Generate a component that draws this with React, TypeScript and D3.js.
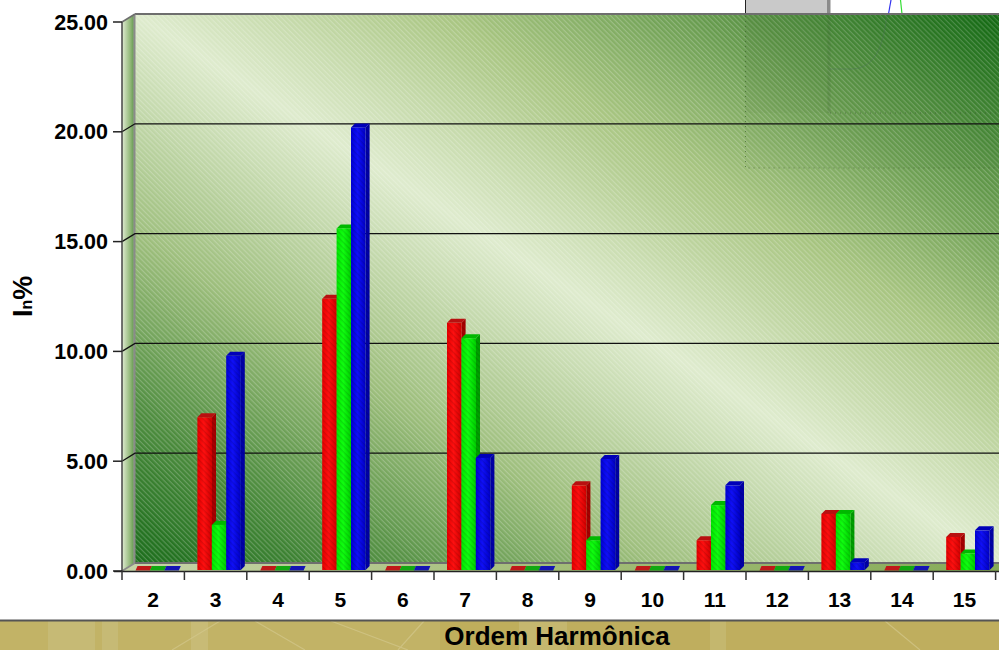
import React from "react";
import * as d3 from "d3";

const categories = ["2","3","4","5","6","7","8","9","10","11","12","13","14","15"];
const redValues = [0,7.0,0,12.4,0,11.3,0,3.9,0,1.4,0,2.6,0,1.55];
const greenValues = [0,2.1,0,15.6,0,10.6,0,1.4,0,3.0,0,2.6,0,0.8];
const blueValues = [0,9.8,0,20.2,0,5.15,0,5.1,0,3.9,0,0.4,0,1.85];
const yTicks = [0,5,10,15,20,25];
const seriesColors = [
  { side: "#a80000", top: "#b81010", flat: "#c01818", id: "r" },
  { side: "#00a000", top: "#00b800", flat: "#12a812", id: "g" },
  { side: "#0000a8", top: "#0000b8", flat: "#1414b4", id: "b" },
];

const W = 999, H = 650;
const dx = 13, dy = 8;
const barDx = 4, barDy = 4;
const x = d3.scaleBand<string>().domain(categories).range([122, 995.6]);
const y = d3.scaleLinear().domain([0, 25]).range([571, 22]);
const FONT = "'Liberation Sans', Arial, sans-serif";

export default function App() {
  const series = [redValues, greenValues, blueValues];
  const step = x.step();
  const barW = 14.6;
  const right = W + 2;
  return (
    <svg width={W} height={H} viewBox={`0 0 ${W} ${H}`} style={{ position: "absolute", left: 0, top: 0, background: "#fff" }}>
      <defs>
        <linearGradient id="wall" x1="0" y1="1" x2="1" y2="0">
          <stop offset="0" stopColor="#1a6c1a" />
          <stop offset="0.13" stopColor="#4a8a3c" />
          <stop offset="0.3" stopColor="#9dbe7c" />
          <stop offset="0.5" stopColor="#deebcd" />
          <stop offset="0.68" stopColor="#a8c581" />
          <stop offset="0.85" stopColor="#5a9344" />
          <stop offset="1" stopColor="#0f6a10" />
        </linearGradient>
        <linearGradient id="side" x1="0" y1="0" x2="1" y2="0">
          <stop offset="0" stopColor="#e0ebd2" />
          <stop offset="0.65" stopColor="#8fb676" />
          <stop offset="0.85" stopColor="#6fa05a" />
          <stop offset="1" stopColor="#b7c7a8" />
        </linearGradient>
        <linearGradient id="floor" x1="0" y1="0" x2="1" y2="0">
          <stop offset="0" stopColor="#c6d4a8" />
          <stop offset="0.5" stopColor="#a3bd78" />
          <stop offset="1" stopColor="#86ab58" />
        </linearGradient>
        <pattern id="hatch" width="3.6" height="3.6" patternUnits="userSpaceOnUse" patternTransform="rotate(45)">
          <rect width="3.6" height="1.2" fill="#ffffff" fillOpacity="0.22" />
        </pattern>
        <pattern id="barHatch" width="4" height="4" patternUnits="userSpaceOnUse" patternTransform="rotate(45)">
          <rect width="4" height="1.4" fill="#000000" fillOpacity="0.12" />
        </pattern>
        <linearGradient id="front-r" x1="0" y1="0" x2="1" y2="0">
          <stop offset="0" stopColor="#e80000" />
          <stop offset="0.45" stopColor="#ff1010" />
          <stop offset="1" stopColor="#d40000" />
        </linearGradient>
        <linearGradient id="front-g" x1="0" y1="0" x2="1" y2="0">
          <stop offset="0" stopColor="#00e800" />
          <stop offset="0.45" stopColor="#10ff10" />
          <stop offset="1" stopColor="#00d000" />
        </linearGradient>
        <linearGradient id="front-b" x1="0" y1="0" x2="1" y2="0">
          <stop offset="0" stopColor="#0000d8" />
          <stop offset="0.45" stopColor="#1010f8" />
          <stop offset="1" stopColor="#0000c8" />
        </linearGradient>
        <linearGradient id="ghost" x1="0" y1="1" x2="1" y2="0">
          <stop offset="0" stopColor="#5d8a4a" stopOpacity="0.05" />
          <stop offset="1" stopColor="#1c5c1c" stopOpacity="0.14" />
        </linearGradient>
      </defs>

      {/* tan band below the chart */}
      <rect x={0} y={620} width={W} height={30} fill="#c2b366" />
      <rect x={48} y={621} width={47} height={29} fill="#c6ba75" />
      <rect x={102} y={621} width={16} height={29} fill="#c6ba75" />
      <rect x={191} y={621} width={17} height={29} fill="#c8bb76" />
      <rect x={440} y={621} width={79} height={29} fill="#bfae5c" />
      <rect x={519} y={621} width={48} height={29} fill="#c5b76f" />
      <rect x={567} y={621} width={143} height={29} fill="#bfae5e" />
      <rect x={710} y={621} width={16} height={29} fill="#c4b76e" />
      <rect x={726} y={621} width={273} height={29} fill="#bfae5e" />
      <path d="M172 650 L220 621 M255 621 L305 650 M331 621 L408 650 M424 621 L398 650 M885 621 L920 650" stroke="#d3c88c" strokeWidth={1.2} fill="none" opacity={0.7} />
      <line x1={0} x2={W} y1={620.5} y2={620.5} stroke="#555" strokeWidth={2} />

      {/* fragment of an inset above the plot */}
      <rect x={745.5} y={-2} width={83} height={16} fill="#c9c9c9" stroke="#222" strokeWidth={1} />
      <rect x={827} y={-2} width={3.5} height={16} fill="#8b8b8b" />
      <line x1={888.5} y1={14} x2={891} y2={0} stroke="#3333ee" strokeWidth={1.2} />
      <line x1={902} y1={14} x2={900.5} y2={0} stroke="#33dd33" strokeWidth={1.2} />

      {/* back wall */}
      <rect x={122 + dx} y={14} width={right - 122 - dx} height={549} fill="url(#wall)" />
      <rect x={122 + dx} y={14} width={right - 122 - dx} height={549} fill="url(#hatch)" />
      {/* ghost inset over the wall */}
      <rect x={745.5} y={14} width={260} height={154} fill="url(#ghost)" stroke="#3f5f30" strokeOpacity={0.7} strokeDasharray="1 4" />
      <rect x={745.5} y={14} width={83} height={99} fill="#5d8040" fillOpacity={0.08} />
      <line x1={830} x2={999} y1={113} y2={113} stroke="#3f5f30" strokeOpacity={0.7} strokeDasharray="1 4" />
      <line x1={829} x2={829} y1={14} y2={113} stroke="#3f5f30" strokeOpacity={0.18} strokeWidth={3} />
      <path d="M887 14 C884 40 878 68 852 69 L830 69" fill="none" stroke="#4a6d5a" strokeOpacity={0.4} />

      {/* side wall */}
      <path d={`M122 22 L135 14 L135 563 L122 571 Z`} fill="url(#side)" />
      {/* floor */}
      <path d={`M122 571 L135 563 L${right} 563 L${right} 571 Z`} fill="url(#floor)" />

      {/* wall frame */}
      <line x1={135} x2={right} y1={14} y2={14} stroke="#6e6e6e" strokeWidth={2} />
      <line x1={134.5} x2={134.5} y1={14} y2={563} stroke="#8a8a8a" strokeWidth={2} />
      <line x1={135} x2={right} y1={563} y2={563} stroke="#6e6e6e" strokeWidth={2} />
      <line x1={122} x2={135} y1={22} y2={14} stroke="#6e6e6e" strokeWidth={1.5} />
      <line x1={122} x2={135} y1={571} y2={563} stroke="#8a8a8a" strokeWidth={1.5} />

      {/* gridlines */}
      {yTicks.filter((t) => t > 0 && t < 25).map((t) => (
        <path key={t} fill="none" stroke="#111" strokeWidth={1.3} d={`M122 ${y(t)} L135 ${y(t) - dy} L${right} ${y(t) - dy}`} />
      ))}

      {/* bars */}
      {categories.map((c, i) => {
        const gx = x(c)! + 13;
        return (
          <g key={c}>
            {series.map((vals, s) => {
              const col = seriesColors[s];
              const v = vals[i];
              const x0 = gx + s * (barW - 0.2);
              const base = 570;
              if (v === 0) {
                return (
                  <path key={s} d={`M${x0 + 0.5} ${base + 0.5} L${x0 + 2.5} ${base - 4} L${x0 + 17} ${base - 4} L${x0 + 15} ${base + 0.5} Z`} fill={col.flat} />
                );
              }
              const top = y(v);
              const sidePath = `M${x0 + barW} ${top} L${x0 + barW + barDx} ${top - barDy} L${x0 + barW + barDx} ${base - barDy} L${x0 + barW} ${base} Z`;
              return (
                <g key={s}>
                  <path d={sidePath} fill={col.side} />
                  <path d={sidePath} fill="url(#barHatch)" />
                  <path d={`M${x0} ${top} L${x0 + barDx} ${top - barDy} L${x0 + barW + barDx} ${top - barDy} L${x0 + barW} ${top} Z`} fill={col.top} />
                  <rect x={x0} y={top} width={barW} height={base - top} fill={`url(#front-${col.id})`} />
                  <rect x={x0} y={top} width={barW} height={base - top} fill="url(#barHatch)" />
                </g>
              );
            })}
          </g>
        );
      })}

      {/* axes */}
      <line x1={122} x2={122} y1={22} y2={571} stroke="#444" strokeWidth={1.5} />
      <line x1={114} x2={W} y1={571.5} y2={571.5} stroke="#222" strokeWidth={1.5} />
      {yTicks.map((t) => (
        <g key={t}>
          <line x1={113} x2={122} y1={y(t)} y2={y(t)} stroke="#222" strokeWidth={1.5} />
          <text x={108} y={y(t) + 7.5} textAnchor="end" fontFamily={FONT} fontWeight="bold" fontSize={21.5} fill="#000">
            {t.toFixed(2)}
          </text>
        </g>
      ))}
      {categories.map((c) => (
        <line key={c} x1={x(c)!} x2={x(c)!} y1={571} y2={580} stroke="#333" strokeWidth={1.5} />
      ))}
      <line x1={995.6} x2={995.6} y1={571} y2={580} stroke="#333" strokeWidth={1.5} />
      {categories.map((c) => (
        <text key={c} x={x(c)! + step / 2} y={607} textAnchor="middle" fontFamily={FONT} fontWeight="bold" fontSize={21} fill="#000">
          {c}
        </text>
      ))}
      <text x={557} y={645} textAnchor="middle" fontFamily={FONT} fontWeight="bold" fontSize={26} fill="#000">
        Ordem Harmônica
      </text>
      <text transform="translate(32,317) rotate(-90)" fontFamily={FONT} fontWeight="bold" fontSize={27} fill="#000">
        I<tspan fontSize={16}>n</tspan>%
      </text>
    </svg>
  );
}
